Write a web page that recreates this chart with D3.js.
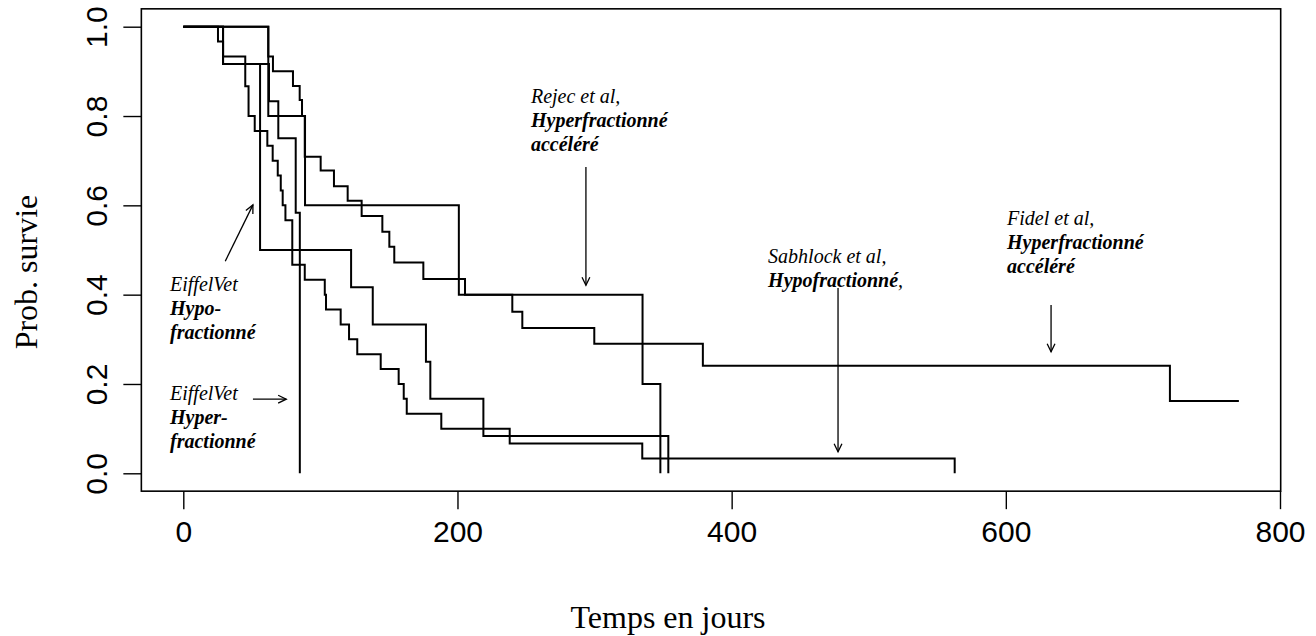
<!DOCTYPE html>
<html>
<head>
<meta charset="utf-8">
<script src="https://cdn.jsdelivr.net/npm/d3@7"></script>
<style>
  body { margin: 0; background: #fff; }
  svg { display: block; }
</style>
</head>
<body>
<svg id="chart" width="1316" height="636"></svg>
<script>
// Axis ticks
const xTicks = [0, 200, 400, 600, 800];
const yTicks = [0.0, 0.2, 0.4, 0.6, 0.8, 1.0];

// Kaplan-Meier curves: event times (days) and survival after each event
const eiffelHypoTimes = [0, 29, 56, 122.4, 138.2, 177, 180.2, 218.9, 353.8];
const eiffelHypoSurv  = [1, 0.9167, 0.5, 0.4167, 0.3333, 0.25, 0.1667, 0.0833, 0];

const eiffelHyperTimes = [0, 29, 62.5, 69.3, 82, 85];
const eiffelHyperSurv  = [1, 0.9167, 0.8333, 0.75, 0.5833, 0];

const rejecTimes = [0, 62, 88.8, 201, 335, 348];
const rejecSurv  = [1, 0.8, 0.6, 0.4, 0.2, 0];

const sabhlockTimes = [0, 25.3, 29, 45.2, 47.6, 52.1, 61.3, 65.2, 68.9, 71.1, 72.5, 74.5, 79.5,
                       88.6, 103.2, 104.1, 114.8, 120.9, 126.9, 144, 157.1, 160.8, 163, 188.2,
                       238.1, 334.8, 562.7];
const sabhlockSurv  = [1, 0.9667, 0.9333, 0.8667, 0.8, 0.7667, 0.7333, 0.7, 0.6667, 0.6333, 0.6, 0.5667, 0.4667,
                       0.4333, 0.4, 0.3667, 0.3333, 0.3, 0.2667, 0.2333, 0.2, 0.1667, 0.1333, 0.1,
                       0.0667, 0.0333, 0];

const fidelTimes = [0, 62, 65.4, 80, 84.9, 86.6, 88.6, 100.2, 109.9, 119.9, 130.1, 145.2, 150.3,
                    153.9, 175.1, 205.5, 240, 247.3, 299.8, 379, 719.7, 770];
const fidelSurv  = [1, 0.933, 0.9, 0.867, 0.836, 0.8, 0.709, 0.678, 0.643, 0.61, 0.576, 0.541, 0.507,
                    0.472, 0.435, 0.4, 0.362, 0.3254, 0.29, 0.241, 0.162, 0.162];

const curves = [
  { times: eiffelHypoTimes,  surv: eiffelHypoSurv },
  { times: eiffelHyperTimes, surv: eiffelHyperSurv },
  { times: rejecTimes,       surv: rejecSurv },
  { times: sabhlockTimes,    surv: sabhlockSurv },
  { times: fidelTimes,       surv: fidelSurv }
];

// Annotations: left x (days), baseline of first line (survival), lines [text, bold, trailing]
const notes = [
  { x: 253.6, y: 0.829, lines: [["Rejec et al,", false], ["Hyperfractionné", true], ["accéléré", true]] },
  { x: 426.6, y: 0.471, lines: [["Sabhlock et al,", false], ["Hypofractionné", true, ","]] },
  { x: 600.9, y: 0.556, lines: [["Fidel et al,", false], ["Hyperfractionné", true], ["accéléré", true]] },
  { x: -9.7,  y: 0.408, lines: [["EiffelVet", false], ["Hypo-", true], ["fractionné", true]] },
  { x: -9.7,  y: 0.164, lines: [["EiffelVet", false], ["Hyper-", true], ["fractionné", true]] }
];

// Arrows: from (x0,y0) to (x1,y1) in data units
const arrows = [
  { x0: 293.7, y0: 0.686, x1: 293.7, y1: 0.421 },
  { x0: 477.6, y0: 0.415, x1: 477.6, y1: 0.048 },
  { x0: 633.0, y0: 0.377, x1: 633.0, y1: 0.272 },
  { x0: 30.6,  y0: 0.475, x1: 50.8,  y1: 0.601 },
  { x0: 50.8,  y0: 0.166, x1: 75.1,  y1: 0.166 }
];

const svg = d3.select("#chart");

const x = d3.scaleLinear().domain([0, 800]).range([183.3, 1280]);
const y = d3.scaleLinear().domain([0, 1]).range([473.3, 26.7]);

const xMin = -30.6, xMax = 800.5, yMin = -0.04, yMax = 1.04;

// Plot frame
svg.append("rect")
  .attr("x", x(xMin)).attr("y", y(yMax))
  .attr("width", x(xMax) - x(xMin)).attr("height", y(yMin) - y(yMax))
  .attr("fill", "none").attr("stroke", "#000").attr("stroke-width", 1.6);

// Bottom axis
const gx = svg.append("g")
  .attr("transform", `translate(0,${y(yMin)})`)
  .call(d3.axisBottom(x).tickValues(xTicks).tickFormat(d3.format("d")).tickSize(18).tickPadding(12));
gx.select(".domain").remove();
gx.selectAll("line").attr("stroke-width", 1.4);
gx.selectAll("text")
  .attr("font-family", "Liberation Sans, Arial, sans-serif")
  .attr("font-size", 30).attr("fill", "#000");

// Left axis
const gy = svg.append("g")
  .attr("transform", `translate(${x(xMin)},0)`)
  .call(d3.axisLeft(y).tickValues(yTicks).tickFormat(d3.format(".1f")).tickSize(18));
gy.select(".domain").remove();
gy.selectAll("line").attr("stroke-width", 1.4);
gy.selectAll("text")
  .attr("font-family", "Liberation Sans, Arial, sans-serif")
  .attr("font-size", 30).attr("fill", "#000")
  .attr("x", null).attr("dy", null)
  .attr("text-anchor", "middle")
  .attr("transform", "translate(-34,0) rotate(-90)");

// Axis titles
svg.append("text")
  .attr("x", 668).attr("y", 628)
  .attr("text-anchor", "middle")
  .attr("font-family", "Liberation Serif, Times New Roman, serif")
  .attr("font-size", 32)
  .text("Temps en jours");

svg.append("text")
  .attr("transform", "translate(37,272) rotate(-90)")
  .attr("text-anchor", "middle")
  .attr("font-family", "Liberation Serif, Times New Roman, serif")
  .attr("font-size", 32)
  .text("Prob. survie");

// Survival step curves
const line = d3.line()
  .x(d => x(d[0]))
  .y(d => y(d[1]))
  .curve(d3.curveStepAfter);

svg.append("g").selectAll("path")
  .data(curves)
  .join("path")
  .attr("d", c => line(c.times.map((t, i) => [t, c.surv[i]])))
  .attr("fill", "none")
  .attr("stroke", "#000")
  .attr("stroke-width", 2);

// Annotation text
const lineGap = 24;
const noteG = svg.append("g")
  .attr("font-family", "Liberation Serif, Times New Roman, serif")
  .attr("font-size", 20)
  .attr("font-style", "italic");

notes.forEach(n => {
  n.lines.forEach((ln, i) => {
    const t = noteG.append("text")
      .attr("x", x(n.x))
      .attr("y", y(n.y) + i * lineGap);
    t.append("tspan")
      .attr("font-weight", ln[1] ? "bold" : "normal")
      .text(ln[0]);
    if (ln[2]) t.append("tspan").attr("font-weight", "normal").text(ln[2]);
  });
});

// Arrows with open heads
const arrowG = svg.append("g")
  .attr("fill", "none").attr("stroke", "#000").attr("stroke-width", 1.3);

arrows.forEach(a => {
  const X0 = x(a.x0), Y0 = y(a.y0), X1 = x(a.x1), Y1 = y(a.y1);
  arrowG.append("line").attr("x1", X0).attr("y1", Y0).attr("x2", X1).attr("y2", Y1);
  const ang = Math.atan2(Y1 - Y0, X1 - X0);
  const len = 9, spread = Math.PI / 7;
  const p1 = [X1 - len * Math.cos(ang - spread), Y1 - len * Math.sin(ang - spread)];
  const p2 = [X1 - len * Math.cos(ang + spread), Y1 - len * Math.sin(ang + spread)];
  arrowG.append("path")
    .attr("d", `M${p1[0]},${p1[1]}L${X1},${Y1}L${p2[0]},${p2[1]}`);
});
</script>
</body>
</html>
